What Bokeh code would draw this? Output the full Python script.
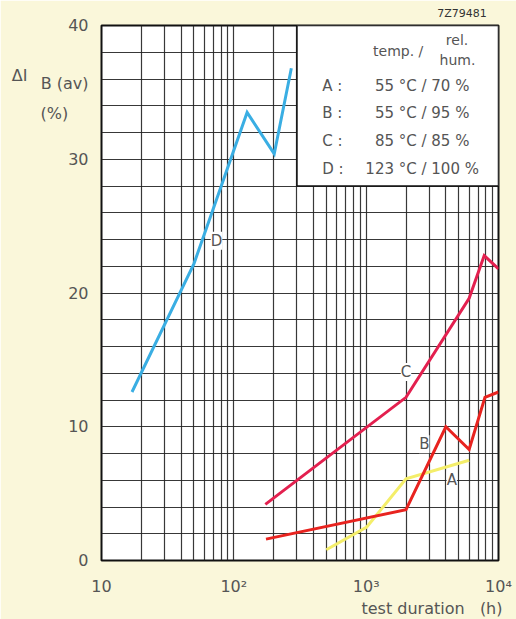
from bokeh.plotting import figure
from bokeh.models import FixedTicker, Label
from bokeh.embed import file_html
from bokeh.resources import INLINE

# ---- data ----
a_x = [500, 1010, 2000, 6000]
a_y = [0.8, 2.5, 6.1, 7.5]
b_x = [175, 2000, 4000, 6000, 7900, 10000]
b_y = [1.6, 3.8, 10.0, 8.3, 12.2, 12.6]
c_x = [173, 2000, 6000, 7800, 10000]
c_y = [4.2, 12.2, 19.6, 22.8, 21.8]
d_x = [17, 50, 126, 202, 272]
d_y = [12.6, 22.2, 33.5, 30.4, 36.8]

series_names = ["A", "B", "C", "D"]
series_colors = ["#F4EE6A", "#E8231F", "#E3204F", "#3AAEE3"]
legend_values = ["55 \u00b0C / 70 %", "55 \u00b0C / 95 %", "85 \u00b0C / 85 %", "123 \u00b0C / 100 %"]

x_ticks = [10, 100, 1000, 10000]
x_tick_labels = {10: "10", 100: "10\u00b2", 1000: "10\u00b3", 10000: "10\u2074"}
y_ticks = [0, 10, 20, 30, 40]

NB = "\u00a0"
# y-axis title pieces, shown as extra labels on the y axis
y_title_pos = [36.26, 35.7, 33.42]
y_title_text = ["\u0394I" + NB * 12, "B (av)", "(%)" + NB * 4]

FONT = "DejaVu Sans"
TXT = "#555555"
BG = "#FAF7DA"

p = figure(width=516, height=619, x_axis_type="log", x_range=(10, 10000), y_range=(0, 40),
           output_backend="svg", toolbar_location=None,
           min_border_left=101, min_border_top=25, min_border_right=18, min_border_bottom=59)
p.background_fill_color = "white"
p.border_fill_color = BG
p.outline_line_color = "#111111"
p.outline_line_width = 2

# grid
minor = []
for dec in [10, 100, 1000]:
    for k in range(1, 10):
        minor.append(dec * k)
minor.append(10000)
p.xgrid.ticker = FixedTicker(ticks=minor)
p.ygrid.ticker = FixedTicker(ticks=list(range(0, 41, 2)))
for g in (p.xgrid, p.ygrid):
    g.grid_line_color = "#222222"
    g.grid_line_width = 1.2
    g.grid_line_alpha = 0.9

# axes
p.xaxis.ticker = FixedTicker(ticks=x_ticks)
p.xaxis.major_label_overrides = x_tick_labels
p.yaxis.ticker = FixedTicker(ticks=y_ticks + y_title_pos)
overrides = {v: str(v) for v in y_ticks}
for v, t in zip(y_title_pos, y_title_text):
    overrides[v] = t
p.yaxis.major_label_overrides = overrides
for ax in (p.xaxis, p.yaxis):
    ax.axis_line_color = None
    ax.major_tick_line_color = None
    ax.minor_tick_line_color = None
    ax.major_label_text_font = FONT
    ax.major_label_text_font_size = "16px"
    ax.major_label_text_color = TXT
p.xaxis.major_label_standoff = 10
p.yaxis.major_label_standoff = 7

# legend box
p.quad(left=300, right=10000, bottom=28, top=40, fill_color="white",
       line_color="#111111", line_width=1.5)

# curves
for xs, ys, col in zip([a_x, b_x, c_x, d_x], [a_y, b_y, c_y, d_y], series_colors):
    p.line(xs, ys, line_color=col, line_width=3, line_join="miter")

def lab(x, y, text, size="15px", align="center", baseline="middle", bg=None, place=None,
        color=TXT, **kw):
    l = Label(x=x, y=y, text=text, text_font=FONT, text_font_size=size, text_color=color,
              text_align=align, text_baseline=baseline, **kw)
    if bg:
        l.background_fill_color = bg
    if place:
        p.add_layout(l, place)
    else:
        p.add_layout(l)

# curve labels
lab(4435, 6.0, "A", bg="white")
lab(2750, 8.7, "B", bg="white")
lab(2000, 14.1, "C", bg="white")
lab(74, 23.9, "D", bg="white")

# legend texts
lab(1745, 38.1, "temp. /", size="14px")
lab(4860, 38.9, "rel.", size="14px")
lab(4900, 37.4, "hum.", size="14px")
rows_y = [35.5, 33.45, 31.4, 29.3]
for name, val, yy in zip(series_names, legend_values, rows_y):
    lab(466, yy, name + " :", align="left")
    lab(2650, yy, val)

# code number (outside the frame)
lab(5300, 40.9, "7Z79481", size="11px", place="above", color="#333333")

# x axis title (outside the frame)
lab(10000, -3.6, "test duration" + NB * 3 + "(h)", size="16px", align="right", x_offset=4, place="below")

open("out.html", "w").write(file_html(p, INLINE))
